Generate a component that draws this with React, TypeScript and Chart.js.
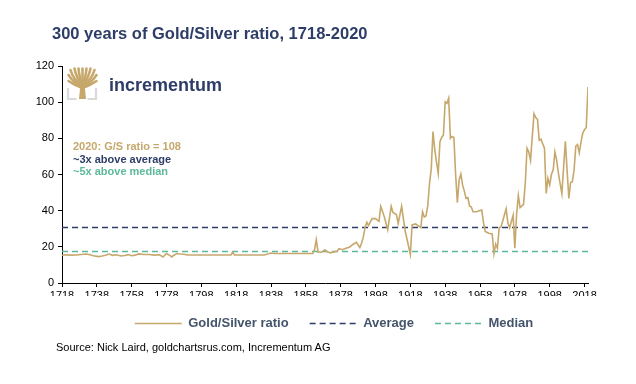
import React, { useEffect, useRef } from 'react';
import { Chart, registerables } from 'chart.js';

Chart.register(...registerables);

// ---- data ----
const years = [
  1718, 1720, 1723, 1726, 1729, 1732, 1734, 1736, 1739, 1741, 1743, 1745, 1747, 1749, 1752, 1754, 1756, 1758, 1760, 1762,
  1765, 1768, 1771, 1774, 1776, 1778, 1780, 1781, 1782, 1784, 1786, 1788, 1790, 1800, 1810, 1815, 1816, 1817, 1825, 1834,
  1836, 1838, 1840, 1850, 1862, 1863, 1864, 1865, 1867, 1869, 1870, 1872, 1874, 1876, 1877, 1879, 1881, 1883, 1885, 1887,
  1889, 1890, 1891, 1892, 1893, 1894, 1896, 1898, 1900, 1901, 1903, 1905, 1907, 1908, 1910, 1911, 1913, 1915, 1916, 1918,
  1919, 1921, 1922, 1924, 1925, 1926, 1927, 1928, 1929, 1930, 1931, 1932, 1933, 1934, 1935, 1936, 1937, 1938, 1939, 1940,
  1941, 1942, 1943, 1944, 1945, 1946, 1947, 1948, 1949, 1950, 1951, 1952, 1953, 1954, 1956, 1957, 1959, 1960, 1961, 1963,
  1965, 1966, 1967, 1968, 1969, 1970, 1971, 1973, 1974, 1975, 1977, 1978, 1979, 1980, 1981, 1983, 1984, 1985, 1986, 1987,
  1989, 1990, 1991, 1992, 1993, 1994, 1995, 1996, 1997, 1998, 1999, 2000, 2001, 2002, 2003, 2004, 2005, 2006, 2007, 2008,
  2009, 2010, 2011, 2012, 2013, 2014, 2015, 2016, 2017, 2018, 2019, 2020,
];
const ratio = [
  15.3, 15.6, 15.4, 15.5, 15.8, 16.0, 15.6, 15.1, 14.6, 14.9, 15.4, 16.0, 15.3, 15.6, 14.9, 15.2, 15.7, 15.1, 15.4, 16.1,
  15.8, 15.8, 15.4, 15.6, 14.4, 16.3, 15.1, 14.4, 15.2, 16.3, 16.0, 15.9, 15.5, 15.5, 15.5, 15.5, 17.0, 15.5, 15.5, 15.5,
  16.0, 16.6, 16.3, 16.3, 16.4, 18.5, 24.0, 17.2, 17.0, 18.4, 17.4, 16.7, 17.2, 17.6, 19.0, 18.4, 19.2, 19.8, 21.3, 22.5,
  19.6, 22.0, 25.5, 30.6, 33.6, 31.8, 35.6, 35.6, 34.1, 42.4, 36.8, 29.4, 42.4, 39.0, 37.9, 32.9, 42.4, 28.9, 24.6, 15.8,
  32.1, 32.7, 32.0, 30.6, 39.4, 36.5, 37.0, 42.8, 55.0, 63.1, 83.7, 74.0, 67.0, 60.7, 78.1, 80.5, 81.8, 100.2, 99.3, 102.2,
  80.0, 81.0, 80.5, 60.0, 44.4, 57.0, 60.2, 54.1, 50.8, 46.8, 47.2, 42.6, 42.0, 39.4, 39.4, 39.8, 40.3, 33.3, 28.5, 27.5,
  27.1, 16.2, 21.5, 19.2, 30.5, 31.0, 34.1, 41.0, 33.3, 30.5, 37.5, 19.2, 37.9, 48.4, 41.7, 43.5, 55.5, 74.5, 72.4, 67.8,
  93.6, 91.5, 90.5, 79.0, 79.5, 77.0, 74.5, 49.5, 57.8, 54.2, 60.0, 62.4, 72.5, 68.0, 60.7, 55.0, 49.5, 64.0, 78.3, 62.4,
  46.8, 55.5, 56.0, 62.4, 75.7, 76.6, 72.0, 78.0, 82.9, 84.8, 86.0, 108.4,
];
const AVERAGE = 30.7;
const MEDIAN = 17.4;
const xTickYears = [1718, 1738, 1758, 1778, 1798, 1818, 1838, 1858, 1878, 1898, 1918, 1938, 1958, 1978, 1998, 2018];
const seriesLabels = ['Gold/Silver ratio', 'Average', 'Median'];

const TITLE = '300 years of Gold/Silver ratio, 1718-2020';
const NOTE_LINES = ['2020: G/S ratio = 108', '~3x above average', '~5x above median'];
const SOURCE = 'Source: Nick Laird, goldchartsrus.com, Incrementum AG';
const LOGO_TEXT = 'incrementum';

const GOLD = '#C6A86C';
const NAVY = '#2E3D68';
const GREEN = '#5DB99B';
const LEGEND_TEXT = '#44546A';
const FONT = "'Liberation Sans', Arial, sans-serif";

export default function App() {
  const canvasRef = useRef<HTMLCanvasElement>(null);

  useEffect(() => {
    const canvas = canvasRef.current;
    if (!canvas) return;
    const tickFont = { family: FONT, size: 11 };
    const chart = new Chart(canvas, {
      type: 'line',
      data: {
        datasets: [
          {
            label: seriesLabels[0],
            data: years.map((y, i) => ({ x: y, y: ratio[i] })),
            borderColor: GOLD,
            backgroundColor: GOLD,
            borderWidth: 1.6,
            pointRadius: 0,
            tension: 0,
          },
          {
            label: seriesLabels[1],
            data: [
              { x: years[0], y: AVERAGE },
              { x: years[years.length - 1], y: AVERAGE },
            ],
            borderColor: NAVY,
            backgroundColor: NAVY,
            borderWidth: 1.5,
            borderDash: [6, 4],
            pointRadius: 0,
          },
          {
            label: seriesLabels[2],
            data: [
              { x: years[0], y: MEDIAN },
              { x: years[years.length - 1], y: MEDIAN },
            ],
            borderColor: GREEN,
            backgroundColor: GREEN,
            borderWidth: 1.5,
            borderDash: [6, 4],
            pointRadius: 0,
          },
        ],
      } as any,
      options: {
        responsive: false,
        animation: false,
        layout: { padding: { left: 32, right: 0, top: 66, bottom: 44 } },
        scales: {
          x: {
            type: 'linear',
            min: 1718,
            max: 2020,
            afterBuildTicks: (scale: any) => {
              scale.ticks = xTickYears.map((v) => ({ value: v }));
            },
            afterFit: (scale: any) => {
              scale.height = 13;
            },
            grid: { drawOnChartArea: false, drawTicks: true, tickLength: 4, color: '#000' },
            border: { display: true, color: '#000', width: 1 },
            ticks: {
              font: tickFont,
              color: '#000',
              padding: 2,
              maxRotation: 0,
              autoSkip: false,
              callback: (v: any) => String(v),
            },
          },
          y: {
            min: 0,
            max: 120,
            afterFit: (scale: any) => {
              scale.width = 30;
            },
            grid: { drawOnChartArea: false, drawTicks: true, tickLength: 4, color: '#000' },
            border: { display: true, color: '#000', width: 1 },
            ticks: { stepSize: 20, font: tickFont, color: '#000', padding: 4 },
          },
          yRightSpacer: {
            type: 'linear',
            position: 'right',
            display: true,
            afterFit: (scale: any) => {
              scale.width = 48;
            },
            grid: { display: false },
            border: { display: false },
            ticks: { display: false },
          },
        },
        plugins: {
          tooltip: { enabled: false },
          title: { display: false },
          legend: {
            position: 'bottom',
            align: 'center',
            labels: {
              usePointStyle: true,
              pointStyleWidth: 47,
              padding: 21,
              color: LEGEND_TEXT,
              font: { family: FONT, size: 13, weight: 'bold' },
              generateLabels: (c: any) =>
                c.data.datasets.map((ds: any, i: number) => ({
                  text: ds.label,
                  fillStyle: ds.borderColor,
                  strokeStyle: ds.borderColor,
                  lineWidth: ds.borderWidth,
                  lineDash: ds.borderDash || [],
                  pointStyle: 'line',
                  hidden: false,
                  datasetIndex: i,
                  fontColor: LEGEND_TEXT,
                })),
            },
          },
        },
      } as any,
    });
    return () => chart.destroy();
  }, []);

  return (
    <div style={{ position: 'fixed', left: 0, top: 0, width: 636, height: 384, background: '#fff' }}>
      <canvas
        ref={canvasRef}
        width={636}
        height={384}
        style={{ position: 'absolute', left: 0, top: 0, width: 636, height: 384 }}
      />
      <svg
        width={636}
        height={384}
        style={{ position: 'absolute', left: 0, top: 0, pointerEvents: 'none' }}
      >
        <text x={52} y={39.3} fill={NAVY} fontFamily={FONT} fontWeight="bold" fontSize={16.5}>
          {TITLE}
        </text>
        {/* logo mark */}
        <g>
          <path d="M79 99 L86 99 L84.6 85 L80.4 85 Z" fill={GOLD} />
          <g stroke={GOLD} strokeWidth={2.6} strokeLinecap="round" fill="none">
            <path d="M82.5 88 Q74 85 68.5 81" />
            <path d="M82.5 88 Q73 82 68.5 75" />
            <path d="M82.5 87 Q73 79 70.5 70" />
            <path d="M82.5 86 Q76 77 74.5 68.5" />
            <path d="M82.5 86 Q79 76 78.5 68.5" />
            <path d="M82.5 86 L82.5 68.5" />
            <path d="M82.5 86 Q86 76 86.5 68.5" />
            <path d="M82.5 86 Q89 77 90.5 68.5" />
            <path d="M82.5 87 Q92 79 94.5 70" />
            <path d="M82.5 88 Q92 82 96.5 75" />
            <path d="M82.5 88 Q91 85 96.5 81" />
          </g>
          <path d="M68 88 L68 99 L76.5 99" stroke="#DADADA" strokeWidth={2.2} fill="none" />
          <path d="M96 88 L96 99 L87.5 99" stroke="#DADADA" strokeWidth={2.2} fill="none" />
        </g>
        <text x={109} y={91} fill={NAVY} fontFamily={FONT} fontWeight="bold" fontSize={18}>
          {LOGO_TEXT}
        </text>
        <text x={73} y={150} fill={GOLD} fontFamily={FONT} fontWeight="bold" fontSize={11}>
          {NOTE_LINES[0]}
        </text>
        <text x={73} y={162.5} fill={NAVY} fontFamily={FONT} fontWeight="bold" fontSize={11}>
          {NOTE_LINES[1]}
        </text>
        <text x={73} y={175} fill={GREEN} fontFamily={FONT} fontWeight="bold" fontSize={11}>
          {NOTE_LINES[2]}
        </text>
        <text x={56} y={351} fill="#000" fontFamily={FONT} fontSize={11}>
          {SOURCE}
        </text>
      </svg>
    </div>
  );
}
